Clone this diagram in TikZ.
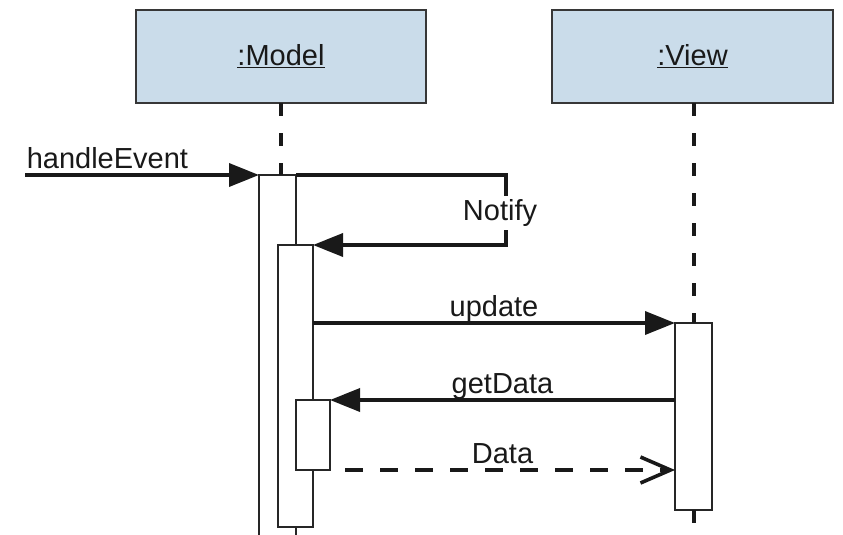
\documentclass[tikz,border=0pt]{standalone}
\usepackage{fontspec}
\setmainfont{Liberation Sans}
\usetikzlibrary{arrows.meta}
\definecolor{boxblue}{RGB}{202,220,234}
\definecolor{boxline}{RGB}{55,55,55}

\begin{document}
\begin{tikzpicture}
  [x=1pt, y=-1pt,
  every node/.style={font=\fontsize{29}{34}\selectfont, text=black!90},
  object/.style={rectangle, draw=boxline, fill=boxblue, line width=2.4pt, inner sep=0pt, outer sep=0pt},
  bar/.style={rectangle, draw=black!85, fill=white, line width=2.4pt, inner sep=0pt, outer sep=0pt},
  lifeline/.style={draw=black!90, line width=4pt, dash pattern=on 13pt off 17pt},
  msg/.style={draw=black!90, line width=3.6pt, -{Triangle[length=30pt,width=23pt]}},
  reply/.style={draw=black!90, line width=3.6pt, dash pattern=on 18pt off 17pt, dash phase=20pt,
    -{Straight Barb[length=30pt,width=26pt]}},
  msglabel/.style={above, inner sep=2pt, text depth=0.25em},
  ]
  \useasboundingbox (0,0) rectangle (843,535);

  % objects
  \node[object, minimum width=290pt, minimum height=93pt] (model) at (281,56.5) {\underline{:Model}};
  \node[object, minimum width=281pt, minimum height=93pt] (view) at (692.5,56.5) {\underline{:View}};

  % activation bars
  \node[bar, minimum width=37pt, minimum height=385pt] (actA) at (277.5,367.5) {};
  \node[bar, minimum width=35pt, minimum height=282pt] (actB) at (295.5,386) {};
  \node[bar, minimum width=34pt, minimum height=70pt] (actC) at (313,435) {};
  \node[bar, minimum width=37pt, minimum height=187pt] (actV) at (693.5,416.5) {};

  % lifelines
  \coordinate (vend) at (693.5,545);
  \draw[lifeline] (model.south) -- (model.south |- actA.north);
  \draw[lifeline] (view.south -| actV.north) -- (actV.north);
  \draw[lifeline] (actV.south) -- (vend);

  % messages
  \coordinate (start) at (25,175);
  \draw[msg] (start) -- (actA.north west)
    node[pos=0, above right, inner xsep=0pt, inner ysep=2pt, text depth=0.25em] {handleEvent};

  \coordinate (loopa) at (506,175);
  \coordinate (loopb) at (506,245);
  \draw[msg] (actA.north east) -- (loopa) -- (loopb) -- (actB.north east);
  \node[fill=white, inner sep=3pt] (notify) at (500,213) {Notify};

  \draw[msg] (actB.east |- actV.north) -- (actV.north west)
    node[midway, msglabel] {update};
  \draw[msg] (actV.west |- actC.north) -- (actC.north east)
    node[midway, msglabel] {getData};
  \draw[reply] (actC.south east) -- (actV.west |- actC.south)
    node[midway, msglabel] {Data};
\end{tikzpicture}
\end{document}
